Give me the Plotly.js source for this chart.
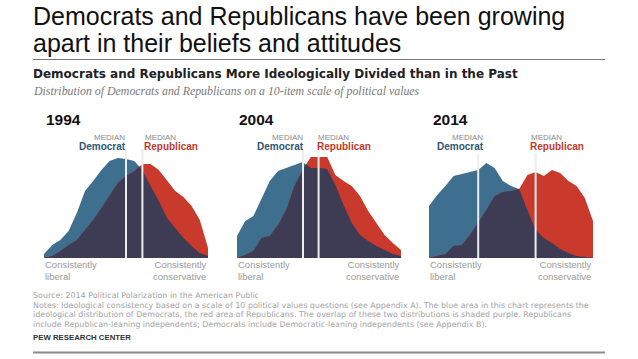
<!DOCTYPE html>
<html>
<head>
<meta charset="utf-8">
<script src="https://cdn.plot.ly/plotly-3.0.1.min.js"></script>
<style>html,body{margin:0;padding:0;background:#fff;}#chart{width:638px;height:359px;}</style>
</head>
<body>
<div id="chart"></div>
<script>
// ---- data (distribution heights along a 21-step ideological scale) ----
const scale = [0,1,2,3,4,5,6,7,8,9,10,11,12,13,14,15,16,17,18,19,20];
const years = ["1994", "2004", "2014"];
const dem1994 = [4,13,18,27,45,67,77,88,97,100,99,97,88,72,57,40,30,20,12,5,2];
const rep1994 = [0,2,7,13,18,28,38,50,63,75,82,87,94,94,88,77,67,61,52,38,10];
const dem2004 = [22,37,42,60,77,87,90,93,96,90,90,89,73,53,35,23,17,12,8,4,2];
const rep2004 = [0,3,7,20,22,33,48,72,88,101,101,101,83,77,72,62,47,35,23,15,8];
const dem2014 = [52,63,72,82,84,86,88,95,90,77,72,69,48,28,20,15,9,5,2,1,0];
const rep2014 = [0,2,4,12,13,23,35,48,62,66,67,69,83,86,82,88,85,77,72,60,37];
const medianDem = [10.0, 8.05, 6.0];
const medianRep = [12.0, 9.95, 13.0];
const medianTop = [109, 108, 104];
const endLabelLeft = "Consistently<br>liberal";
const endLabelRight = "Consistently<br>conservative";

const BLUE = "#3f6f8f", RED = "#c93a2c", PURPLE = "#3e3b54";
const W = 638, H = 359;
const px = x => x / W, py = y => 1 - y / H;

// overlap = pointwise minimum, with crossing points inserted
function overlap(xs, a, b) {
  const ox = [], oy = [];
  for (let i = 0; i < xs.length; i++) {
    ox.push(xs[i]); oy.push(Math.min(a[i], b[i]));
    if (i < xs.length - 1) {
      const d0 = a[i] - b[i], d1 = a[i+1] - b[i+1];
      if (d0 * d1 < 0) {
        const t = d0 / (d0 - d1);
        ox.push(xs[i] + t * (xs[i+1] - xs[i]));
        oy.push(a[i] + t * (a[i+1] - a[i]));
      }
    }
  }
  return {x: ox, y: oy};
}

const series = [[dem1994, rep1994], [dem2004, rep2004], [dem2014, rep2014]];
const panelX = [[44, 208], [237, 401], [429, 593]];
const traces = [];
const layout = {
  width: W, height: H, margin: {l: 0, r: 0, t: 0, b: 0},
  paper_bgcolor: "#ffffff", plot_bgcolor: "rgba(0,0,0,0)",
  showlegend: false, shapes: [], annotations: [],
  font: {family: "Liberation Sans, Arial, sans-serif"}
};
const yDom = [py(258), py(138)];

series.forEach((s, k) => {
  const xa = k === 0 ? "x" : "x" + (k + 1);
  const ya = k === 0 ? "y" : "y" + (k + 1);
  const base = {xaxis: xa, yaxis: ya, type: "scatter", mode: "lines", fill: "tozeroy",
                line: {width: 0}, hoverinfo: "skip"};
  traces.push(Object.assign({}, base, {x: scale, y: s[0], fillcolor: BLUE}));
  traces.push(Object.assign({}, base, {x: scale, y: s[1], fillcolor: RED}));
  const ov = overlap(scale, s[0], s[1]);
  traces.push(Object.assign({}, base, {x: ov.x, y: ov.y, fillcolor: PURPLE}));
  const axx = {domain: [px(panelX[k][0]), px(panelX[k][1])], range: [0, 20], showgrid: false,
               zeroline: false, showticklabels: false, ticks: "", showline: false, anchor: ya, fixedrange: true};
  const axy = {domain: yDom, range: [0, 120], showgrid: false, zeroline: false, showticklabels: false,
               ticks: "", showline: false, anchor: xa, fixedrange: true};
  layout[k === 0 ? "xaxis" : "xaxis" + (k + 1)] = axx;
  layout[k === 0 ? "yaxis" : "yaxis" + (k + 1)] = axy;
  [medianDem[k], medianRep[k]].forEach(m => {
    layout.shapes.push({type: "line", xref: xa, yref: ya, x0: m, x1: m, y0: 0, y1: medianTop[k],
                        line: {color: "#ededed", width: 2}, layer: "above"});
  });
});

function ann(text, x, y, size, color, opts) {
  layout.annotations.push(Object.assign({
    text: text, xref: "paper", yref: "paper", x: px(x), y: py(y), showarrow: false,
    xanchor: "left", yanchor: "middle", font: {size: size, color: color}
  }, opts || {}));
}

// headline
ann("Democrats and Republicans have been growing", 31, 15.5, 25, "#111");
ann("apart in their beliefs and attitudes", 31, 43.5, 25, "#111");
layout.shapes.push({type: "line", xref: "paper", yref: "paper", x0: px(33), x1: px(605), y0: py(59.5), y1: py(59.5),
                    line: {color: "#777", width: 1}});
ann("<b>Democrats and Republicans More Ideologically Divided than in the Past</b>", 31, 74.5, 12, "#222",
    {font: {size: 12, color: "#222", family: "DejaVu Sans, sans-serif"}});
ann("<i>Distribution of Democrats and Republicans on a 10-item scale of political values</i>", 31, 91, 11.85, "#7a7a7a",
    {font: {size: 11.85, color: "#7a7a7a", family: "Liberation Serif, serif"}});

// panel labels
const yearX = [44, 237, 431];
const demTextRight = [127, 305, 485];
const repTextLeft = [143, 316, 529];
years.forEach((yr, k) => {
  ann("<b>" + yr + "</b>", yearX[k], 119, 15.5, "#111");
  ann("MEDIAN", demTextRight[k], 137, 8, "#8a8a8a", {xanchor: "right"});
  ann("<b>Democrat</b>", demTextRight[k] + 1, 146.5, 10, "#2e5572", {xanchor: "right"});
  ann("MEDIAN", repTextLeft[k], 137, 8, "#8a8a8a");
  ann("<b>Republican</b>", repTextLeft[k] - 1, 146.5, 10, "#c0392b");
  ann(endLabelLeft, panelX[k][0] - 1, 270.5, 9.5, "#9a9a9a", {align: "left"});
  ann(endLabelRight, panelX[k][1] + 1, 270.5, 9.5, "#9a9a9a", {xanchor: "right", align: "right"});
});

// footer
const FF = "DejaVu Sans, sans-serif", FC = "#a3a3a3", FS = 7.95;
ann("Source: 2014 Political Polarization in the American Public", 31, 295.5, FS, FC, {font: {size: FS, color: FC, family: FF}});
ann("Notes: Ideological consistency based on a scale of 10 political values questions (see Appendix A). The blue area in this chart represents the", 31, 305, FS, FC, {font: {size: FS, color: FC, family: FF}});
ann("ideological distribution of Democrats, the red area of Republicans. The overlap of these two distributions is shaded purple. Republicans", 31, 314.5, FS, FC, {font: {size: FS, color: FC, family: FF}});
ann("include Republican-leaning independents; Democrats include Democratic-leaning independents (see Appendix B).", 31, 324, FS, FC, {font: {size: FS, color: FC, family: FF}});
ann("<b>PEW RESEARCH CENTER</b>", 31, 337, 7.8, "#333");
layout.shapes.push({type: "line", xref: "paper", yref: "paper", x0: px(33), x1: px(605), y0: py(352.5), y1: py(352.5),
                    line: {color: "#8a8a8a", width: 2}});

Plotly.newPlot("chart", traces, layout, {displayModeBar: false, staticPlot: true});
</script>
</body>
</html>
